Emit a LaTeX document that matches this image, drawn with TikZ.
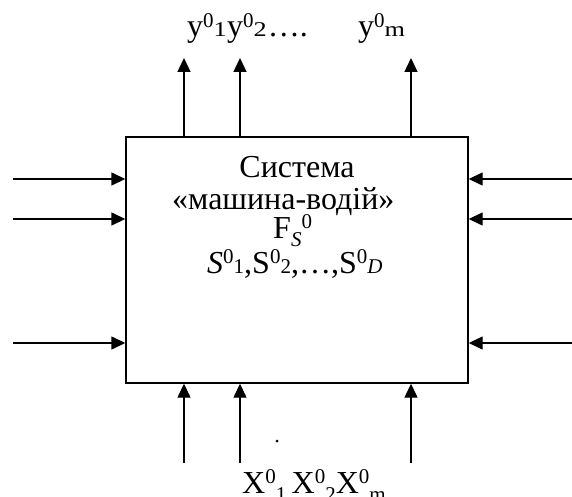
\documentclass[tikz,border=0pt]{standalone}
\usepackage{fontspec}
\setmainfont{Liberation Serif}
\usetikzlibrary{arrows.meta}
\newcommand{\mysup}[1]{\raisebox{0.30em}{\fontsize{21}{21}\selectfont #1}}
\newcommand{\mysml}[1]{{\fontsize{21}{21}\selectfont #1}}
\newcommand{\mywsml}[1]{\scalebox{1.25}[1]{\fontsize{21}{21}\selectfont #1}}
\newcommand{\mysub}[1]{\raisebox{-0.25em}{\fontsize{21}{21}\selectfont #1}}
\begin{document}
\begin{tikzpicture}[x=1pt,y=-1pt,
  arr/.style={line width=1.4pt,-{Triangle[length=14pt,width=13pt]}},
  lbl/.style={inner sep=0pt,anchor=base west,font=\fontsize{32}{32}\selectfont}]
\useasboundingbox (0,0) rectangle (572,497);
\clip (0,0) rectangle (572,497);
\node[draw,line width=1.4pt,minimum width=342pt,minimum height=246pt,inner sep=0pt] (sys) at (297,260) {};
% text in box
\node[lbl,anchor=base] (t1) at (297,177) {Система};
\node[lbl] (t2) at (172,209) {«машина-водій»};
\node[lbl] (t3) at (273,238) {F\mysub{\itshape S}\mysup{0}};
\node[lbl] (t4) at (207,273) {\textit{S}\mysup{0}\mysml{1},S\mysup{0}\mysml{2},…,S\mysup{0}\mysml{\itshape D}};
% top labels
\node[lbl] (ty1) at (187,37) {y\mysup{0}\mywsml{1}};
\node[lbl] (ty2) at (227,37) {y\mysup{0}\mywsml{2}\kern1pt….};
\node[lbl] (tym) at (358,37) {y\mysup{0}\mywsml{m}};
% bottom labels
\node[lbl] (bx) at (242,493) {X\mysup{0}\mysub{1}\,X\mysup{0}\mysub{2}X\mysup{0}\mysub{m}};
\node[circle,fill,inner sep=0pt,minimum size=3pt] (dot) at (277,441) {};
% coordinates of free ends
\coordinate (u1) at (184,58);
\coordinate (u2) at (240,58);
\coordinate (u3) at (411,58);
\coordinate (d1) at (184,463);
\coordinate (d2) at (240,463);
\coordinate (d3) at (411,463);
\coordinate (l1) at (13,179);
\coordinate (l2) at (13,219);
\coordinate (l3) at (13,343);
\coordinate (r1) at (572,179);
\coordinate (r2) at (572,219);
\coordinate (r3) at (572,343);
\foreach \i in {1,2,3}{
  \draw[arr] (u\i |- sys.north) -- (u\i);
  \draw[arr] (d\i) -- (d\i |- sys.south);
  \draw[arr] (l\i) -- (l\i -| sys.west);
  \draw[arr] (r\i) -- (r\i -| sys.east);
}
\end{tikzpicture}
\end{document}
